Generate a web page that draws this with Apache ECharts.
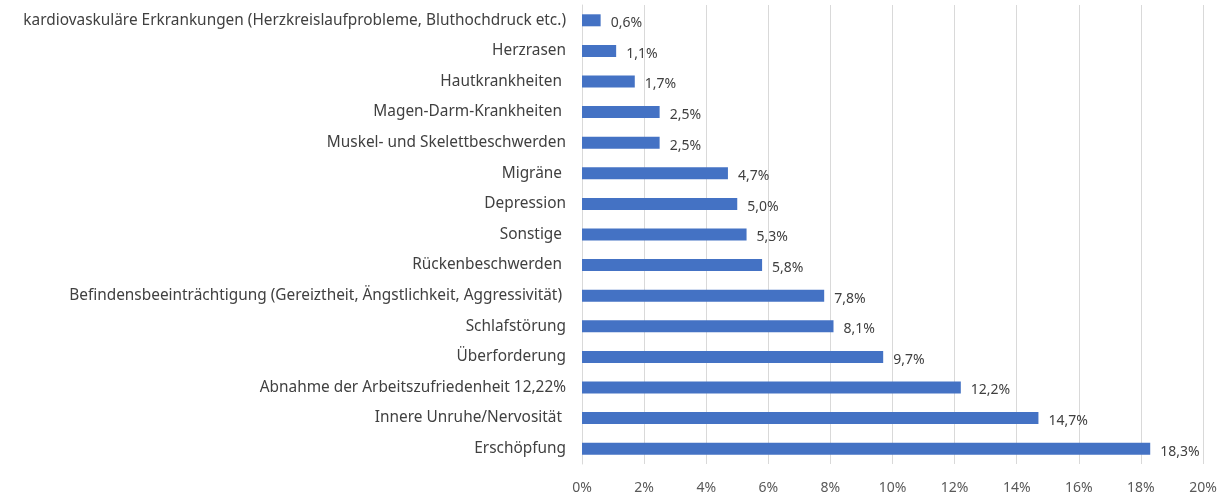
<!DOCTYPE html>
<html>
<head>
<meta charset="utf-8">
<script src="https://cdn.jsdelivr.net/npm/echarts@6/dist/echarts.min.js"></script>
<style>
  html, body { margin: 0; padding: 0; background: #fff; }
  #chart { width: 1232px; height: 500px; }
</style>
</head>
<body>
<div id="chart"></div>
<script>
// Kategorien von oben nach unten
const categories = [
  'kardiovaskuläre Erkrankungen (Herzkreislaufprobleme, Bluthochdruck etc.)',
  'Herzrasen',
  'Hautkrankheiten ',
  'Magen-Darm-Krankheiten ',
  'Muskel- und Skelettbeschwerden',
  'Migräne ',
  'Depression',
  'Sonstige ',
  'Rückenbeschwerden ',
  'Befindensbeeinträchtigung (Gereiztheit, Ängstlichkeit, Aggressivität) ',
  'Schlafstörung',
  'Überforderung',
  'Abnahme der Arbeitszufriedenheit 12,22%',
  'Innere Unruhe/Nervosität ',
  'Erschöpfung'
]
const values = [0.6, 1.1, 1.7, 2.5, 2.5, 4.7, 5.0, 5.3, 5.8, 7.8, 8.1, 9.7, 12.2, 14.7, 18.3]
const axisMax = 20
const axisStep = 2

const chart = echarts.init(document.getElementById('chart'))
chart.setOption({
  animation: false,
  textStyle: { fontFamily: 'Noto Sans' },
  grid: {
    left: 582,
    right: 29,
    top: 5,
    bottom: 36
  },
  xAxis: {
    type: 'value',
    min: 0,
    max: axisMax,
    interval: axisStep,
    axisLine: { show: false },
    axisTick: { show: false },
    splitLine: { lineStyle: { color: '#d9d9d9', width: 1 } },
    axisLabel: {
      color: '#595959',
      fontSize: 14,
      margin: 17,
      formatter: v => v + '%'
    }
  },
  yAxis: {
    type: 'category',
    inverse: true,
    data: categories,
    axisLine: { show: true, lineStyle: { color: '#d9d9d9' } },
    axisTick: { show: false },
    axisLabel: {
      color: '#404040',
      fontSize: 15.4,
      margin: 16
    }
  },
  series: [{
    type: 'bar',
    data: values,
    barWidth: 12,
    itemStyle: { color: '#4472c4' },
    label: {
      show: true,
      position: 'right',
      distance: 10,
      color: '#404040',
      fontSize: 14,
      offset: [0, 3],
      formatter: p => p.value.toFixed(1).replace('.', ',') + '%'
    }
  }]
})
</script>
</body>
</html>
